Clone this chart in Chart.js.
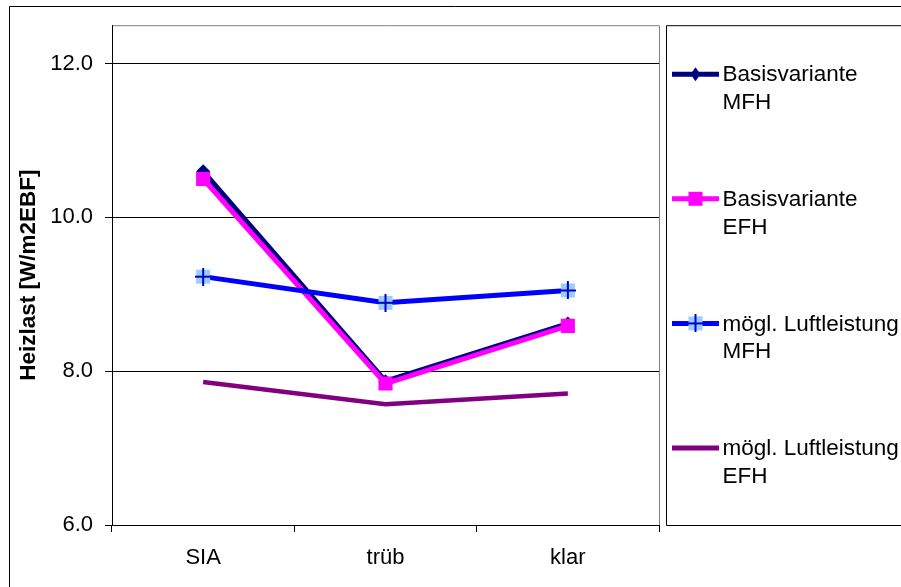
<!DOCTYPE html>
<html lang="de">
  <head>
    <meta charset="UTF-8" />
    <title>Heizlast</title>
    <style>
      body { margin: 0; background: #fff; overflow: hidden; }
      #wrap { width: 901px; height: 587px; }
    </style>
  </head>
  <body>
    <div id="wrap">
      <canvas id="lineChart" width="901" height="587"></canvas>
    </div>

    <script src="https://cdn.jsdelivr.net/npm/chart.js"></script>
    <script>
      // Daten
      const categories = ['SIA', 'trüb', 'klar'];
      const seriesNames = [
        ['Basisvariante', 'MFH'],
        ['Basisvariante', 'EFH'],
        ['mögl. Luftleistung', 'MFH'],
        ['mögl. Luftleistung', 'EFH']
      ];
      const basisMFH = [10.6, 7.87, 8.62];
      const basisEFH = [10.5, 7.84, 8.59];
      const luftMFH = [9.23, 8.89, 9.05];
      const luftEFH = [7.86, 7.57, 7.71];
      const yTicks = [6, 8, 10, 12];
      const yTitle = 'Heizlast [W/m2EBF]';

      const FONT = "'Liberation Sans', Arial, sans-serif";

      // Marker: hellblaues Quadrat mit blauem Kreuz
      function crossMarker() {
        const c = document.createElement('canvas');
        c.width = 16; c.height = 18;
        const g = c.getContext('2d');
        g.fillStyle = '#99ccff';
        g.fillRect(1, 2, 14, 14);
        g.fillStyle = '#0000cc';
        g.fillRect(7, 0, 2, 18);
        g.fillRect(0, 8, 16, 2);
        return c;
      }
      const crossImg = crossMarker();

      // Rahmen, Plotbereich und Legende
      const framePlugin = {
        id: 'frame',
        beforeDraw(chart) {
          const ctx = chart.ctx;
          const a = chart.chartArea;
          ctx.save();
          ctx.lineWidth = 1;
          ctx.strokeStyle = '#000';
          ctx.beginPath();
          ctx.moveTo(9.5, 1000);
          ctx.lineTo(9.5, 6.5);
          ctx.lineTo(1000, 6.5);
          ctx.stroke();
          ctx.strokeStyle = '#808080';
          ctx.beginPath();
          ctx.moveTo(a.left, a.top + 0.5);
          ctx.lineTo(a.right + 0.5, a.top + 0.5);
          ctx.lineTo(a.right + 0.5, a.bottom);
          ctx.stroke();
          ctx.restore();
        },
        afterDraw(chart) {
          const ctx = chart.ctx;
          const a = chart.chartArea;
          ctx.save();
          ctx.lineWidth = 1;
          ctx.strokeStyle = '#000';
          const lx = a.right + 7.5;
          ctx.beginPath();
          ctx.moveTo(1000, a.top + 0.5);
          ctx.lineTo(lx, a.top + 0.5);
          ctx.lineTo(lx, a.bottom + 0.5);
          ctx.lineTo(1000, a.bottom + 0.5);
          ctx.stroke();
          ctx.font = '22.5px ' + FONT;
          ctx.textBaseline = 'middle';
          ctx.fillStyle = '#000';
          chart.data.datasets.forEach((ds, i) => {
            const y = a.top + 49 + i * 124.6;
            const x0 = lx + 5.5, x1 = lx + 52.5, xm = (x0 + x1) / 2;
            ctx.strokeStyle = ds.borderColor;
            ctx.lineWidth = 5;
            ctx.beginPath();
            ctx.moveTo(x0, y);
            ctx.lineTo(x1, y);
            ctx.stroke();
            if (ds.pointStyle === 'rectRot') {
              ctx.fillStyle = ds.pointBackgroundColor;
              ctx.beginPath();
              ctx.moveTo(xm, y - 7);
              ctx.lineTo(xm + 5, y);
              ctx.lineTo(xm, y + 7);
              ctx.lineTo(xm - 5, y);
              ctx.closePath();
              ctx.fill();
            } else if (ds.pointStyle === 'rect') {
              ctx.fillStyle = ds.pointBackgroundColor;
              ctx.fillRect(xm - 7, y - 7, 14, 14);
            } else if (ds.pointStyle === crossImg) {
              ctx.drawImage(crossImg, xm - 8, y - 9);
            }
            ctx.fillStyle = '#000';
            ds.label.forEach((t, k) => ctx.fillText(t, lx + 56, y + 1 + k * 27.7));
          });
          ctx.restore();
        }
      };

      const ctx = document.getElementById('lineChart').getContext('2d');
      new Chart(ctx, {
        type: 'line',
        data: {
          labels: categories,
          datasets: [
            {
              label: seriesNames[0], data: basisMFH, order: 3,
              borderColor: '#000080', borderWidth: 5,
              pointStyle: 'rectRot', pointRadius: 7,
              pointBackgroundColor: '#000080', pointBorderWidth: 0
            },
            {
              label: seriesNames[1], data: basisEFH, order: 2,
              borderColor: '#ff00ff', borderWidth: 5,
              pointStyle: 'rect', pointRadius: 10,
              pointBackgroundColor: '#ff00ff', pointBorderWidth: 0
            },
            {
              label: seriesNames[2], data: luftMFH, order: 1,
              borderColor: '#0000ff', borderWidth: 5,
              pointStyle: crossImg, pointRadius: 8
            },
            {
              label: seriesNames[3], data: luftEFH, order: 0,
              borderColor: '#800080', borderWidth: 4.5,
              pointRadius: 0
            }
          ]
        },
        options: {
          responsive: false,
          animation: false,
          layout: { padding: { top: 25, right: 242, left: 0, bottom: 0 } },
          plugins: {
            legend: { display: false },
            tooltip: { enabled: false }
          },
          elements: { line: { tension: 0 } },
          scales: {
            x: {
              offset: true,
              afterFit: s => { s.height = 62; },
              border: { color: '#000', width: 1 },
              grid: { drawOnChartArea: false, drawTicks: true, tickLength: 7, color: '#000', offset: true },
              ticks: { color: '#000', padding: 13, font: { family: FONT, size: 22 } }
            },
            y: {
              min: 6,
              max: 12.5,
              afterFit: s => { s.width = 112; },
              afterBuildTicks: s => { s.ticks = yTicks.map(v => ({ value: v })); },
              border: { color: '#000', width: 1 },
              grid: { color: '#000', tickLength: 7 },
              ticks: {
                color: '#000', padding: 12,
                font: { family: FONT, size: 22 },
                callback: v => v.toFixed(1)
              },
              title: {
                display: true, text: yTitle, color: '#000',
                padding: { top: 15, bottom: 0 },
                font: { family: FONT, size: 22.5, weight: 'bold' }
              }
            }
          }
        },
        plugins: [framePlugin]
      });
    </script>
  </body>
</html>
